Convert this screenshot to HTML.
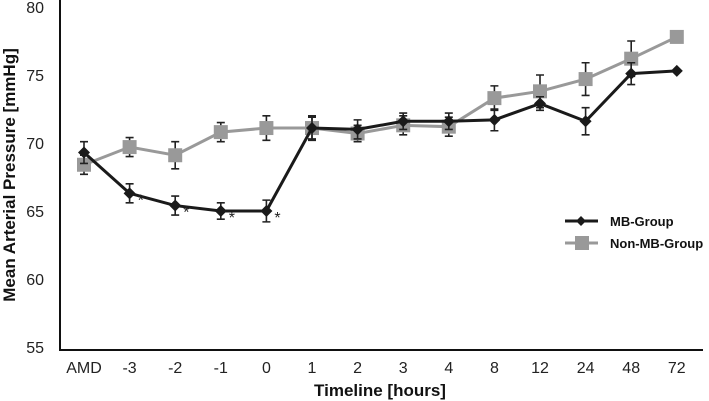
<!DOCTYPE html>
<html><head><meta charset="utf-8"><style>
html,body{margin:0;padding:0;background:#fff;}
svg{display:block;font-family:"Liberation Sans",Arial,sans-serif;}
</style></head><body>
<svg id="chart" width="709" height="401"></svg>
<script>
const categories=["AMD","-3","-2","-1","0","1","2","3","4","8","12","24","48","72"];
const mbValues=[69.3,66.3,65.4,65.0,65.0,71.1,71.0,71.6,71.6,71.7,72.9,71.6,75.1,75.3];
const mbErrors=[0.8,0.7,0.7,0.6,0.8,0.8,0.7,0.6,0.6,0.8,0.5,1.0,0.8,0];
const nonMbValues=[68.4,69.7,69.1,70.8,71.1,71.1,70.7,71.3,71.2,73.3,73.8,74.7,76.2,77.8];
const nonMbErrors=[0.7,0.7,1.0,0.7,0.9,0.9,0.6,0.7,0.7,0.9,1.2,1.2,1.3,0];
const significant=[false,true,true,true,true,false,false,false,false,false,false,false,false,false];
const yTicks=[55,60,65,70,75,80];

const svg=document.getElementById('chart');
const NS='http://www.w3.org/2000/svg';
function x(i){return 84+i*45.6;}
function y(v){return 347-(v-55)*(340/25);}
function mk(tag,attrs,parent){const e=document.createElementNS(NS,tag);for(const k in attrs)e.setAttribute(k,attrs[k]);(parent||svg).appendChild(e);return e;}

let ax=mk('line',{x1:60,y1:0,x2:60,y2:350,stroke:'#111','stroke-width':2});


ax=mk('line',{x1:59,y1:350,x2:703,y2:350,stroke:'#111','stroke-width':2});



yTicks.forEach(t=>{
  const e=mk('text',{x:44,y:y(t)+6,'text-anchor':'end','font-size':16,fill:'#222'});
  e.textContent=t;
  
  
});
categories.forEach((c,i)=>{
  const e=mk('text',{x:x(i),y:373,'text-anchor':'middle','font-size':16,fill:'#222'});
  e.textContent=c;
  
  
});
let t=mk('text',{x:15,y:175,transform:'rotate(-90 15 175)','text-anchor':'middle','font-size':17,'font-weight':'bold',fill:'#111'});
t.textContent='Mean Arterial Pressure [mmHg]';


t=mk('text',{x:380,y:396,'text-anchor':'middle','font-size':17,'font-weight':'bold',fill:'#111'});
t.textContent='Timeline [hours]';



function series(vals,errs,color,name,marker){
  const g=mk('g',{});
  
  
  vals.forEach((v,i)=>{
    if(errs[i]>0){
      const eb=mk('path',{d:`M${x(i)} ${y(v+errs[i])}V${y(v-errs[i])}M${x(i)-4} ${y(v+errs[i])}h8M${x(i)-4} ${y(v-errs[i])}h8`,stroke:'#222','stroke-width':1.6,fill:'none'},g);
      
      
    }
  });
  const ln=mk('polyline',{points:vals.map((v,i)=>x(i)+','+y(v)).join(' '),fill:'none',stroke:color,'stroke-width':3},g);
  
  
  vals.forEach((v,i)=>{
    let m;
    if(marker==='diamond') m=mk('path',{d:`M${x(i)} ${y(v)-6}l6 6l-6 6l-6 -6z`,fill:color},g);
    else m=mk('rect',{x:x(i)-7,y:y(v)-7,width:14,height:14,fill:color},g);
    
    
  });
}
series(nonMbValues,nonMbErrors,'#999','non-mb-group','square');
series(mbValues,mbErrors,'#1a1a1a','mb-group','diamond');

significant.forEach((s,i)=>{
  if(!s)return;
  const a=mk('text',{x:x(i)+8,y:y(mbValues[i])+12,'font-size':16,fill:'#222'});
  a.textContent='*';
  
  
});

const lg=mk('g',{});


mk('line',{x1:565,y1:221,x2:598,y2:221,stroke:'#1a1a1a','stroke-width':3},lg);
mk('path',{d:'M581 216l5 5l-5 5l-5 -5z',fill:'#1a1a1a'},lg);
t=mk('text',{x:610,y:226,'font-size':13,'font-weight':'bold',fill:'#111'},lg);
t.textContent='MB-Group';


mk('line',{x1:565,y1:243,x2:598,y2:243,stroke:'#999','stroke-width':3},lg);
mk('rect',{x:575,y:236,width:14,height:14,fill:'#999'},lg);
t=mk('text',{x:610,y:248,'font-size':13,'font-weight':'bold',fill:'#111'},lg);
t.textContent='Non-MB-Group';


</script>
</body></html>
